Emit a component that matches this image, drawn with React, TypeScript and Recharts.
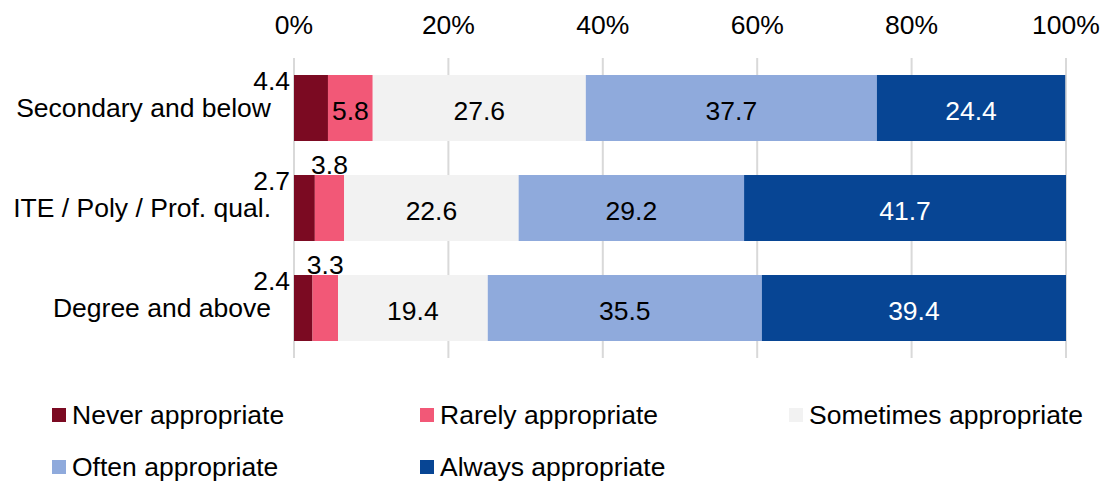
import { BarChart, Bar, XAxis, YAxis, CartesianGrid, Legend, LabelList } from 'recharts';

// ── data ───────────────────────────────────────────────────────────
const CATEGORIES = ['Secondary and below', 'ITE / Poly / Prof. qual.', 'Degree and above'];
const NEVER = [4.4, 2.7, 2.4];
const RARELY = [5.8, 3.8, 3.3];
const SOMETIMES = [27.6, 22.6, 19.4];
const OFTEN = [37.7, 29.2, 35.5];
const ALWAYS = [24.4, 41.7, 39.4];
const X_TICKS = [0, 20, 40, 60, 80, 100];

const SERIES = [
  { key: 'never', name: 'Never appropriate', colour: '#7b0a22', text: '#000000' },
  { key: 'rarely', name: 'Rarely appropriate', colour: '#f25877', text: '#000000' },
  { key: 'sometimes', name: 'Sometimes appropriate', colour: '#f2f2f2', text: '#000000' },
  { key: 'often', name: 'Often appropriate', colour: '#8faadc', text: '#000000' },
  { key: 'always', name: 'Always appropriate', colour: '#074594', text: '#ffffff' },
];

const data = CATEGORIES.map((cat, i) => ({
  cat,
  never: NEVER[i],
  rarely: RARELY[i],
  sometimes: SOMETIMES[i],
  often: OFTEN[i],
  always: ALWAYS[i],
}));

const FONT = '"Liberation Sans", Arial, sans-serif';
const FS = 26.5;

// small segments get their label outside the bar
function makeLabel(seriesKey: string, textColour: string) {
  return (props: any) => {
    const { x, y, width, height, value } = props;
    const txt = Number(value).toFixed(1);
    if (seriesKey === 'never') {
      return (
        <text x={x - 4} y={y + 6} textAnchor="end" dominantBaseline="central"
          fontSize={FS} fontFamily={FONT} fill="#000">{txt}</text>
      );
    }
    if (width < 35) {
      return (
        <text x={x + width / 2} y={y - 10} textAnchor="middle" dominantBaseline="central"
          fontSize={FS} fontFamily={FONT} fill="#000">{txt}</text>
      );
    }
    return (
      <text x={x + width / 2} y={y + height / 2 + 3} textAnchor="middle" dominantBaseline="central"
        fontSize={FS} fontFamily={FONT} fill={textColour}>{txt}</text>
    );
  };
}

const LEGEND_COL_X = [52, 420, 789];

function LegendBox() {
  return (
    <div style={{ position: 'relative', width: 1105, height: 127, fontFamily: FONT, fontSize: FS, color: '#000' }}>
      {SERIES.map((s, i) => (
        <div key={s.key} style={{
          position: 'absolute',
          left: LEGEND_COL_X[i % 3],
          top: 57 + Math.floor(i / 3) * 52 - 15,
          height: 30,
          display: 'flex',
          alignItems: 'center',
          whiteSpace: 'nowrap',
        }}>
          <span style={{ display: 'inline-block', width: 14, height: 14, background: s.colour, marginRight: 6 }} />
          {s.name}
        </div>
      ))}
    </div>
  );
}

export default function App() {
  return (
    <div style={{ position: 'absolute', left: 0, top: 0, width: 1105, height: 485, background: '#fff' }}>
      <BarChart
        width={1105}
        height={485}
        data={data}
        layout="vertical"
        margin={{ top: 0, right: 39, bottom: 0, left: 0 }}
        barCategoryGap="17%"
      >
        <CartesianGrid horizontal={false} stroke="#d9d9d9" strokeWidth={2} />
        <XAxis
          type="number"
          orientation="top"
          domain={[0, 100]}
          ticks={X_TICKS}
          tickFormatter={(v: number) => `${v}%`}
          axisLine={false}
          tickLine={false}
          tickSize={0}
          tickMargin={24}
          height={58}
          interval={0}
          tick={{ fontSize: FS, fontFamily: FONT, fill: '#000' }}
        />
        <YAxis
          type="category"
          dataKey="cat"
          width={294}
          axisLine={false}
          tickLine={false}
          tickSize={0}
          tickMargin={23}
          tick={{ fontSize: FS, fontFamily: FONT, fill: '#000' }}
        />
        <Legend
          verticalAlign="bottom"
          content={() => <LegendBox />}
          wrapperStyle={{ left: 0, width: 1105, height: 127 }}
        />
        {SERIES.map(s => (
          <Bar key={s.key} dataKey={s.key} name={s.name} stackId="a" fill={s.colour} isAnimationActive={false}>
            <LabelList dataKey={s.key} content={makeLabel(s.key, s.text)} />
          </Bar>
        ))}
      </BarChart>
    </div>
  );
}
